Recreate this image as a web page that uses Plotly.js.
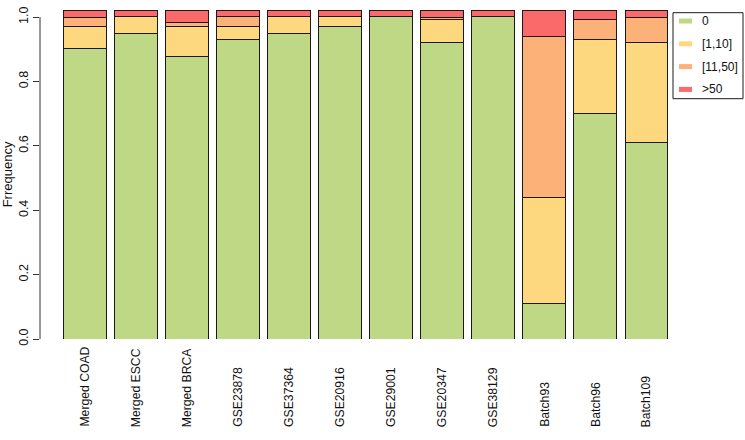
<!DOCTYPE html>
<html>
<head>
<meta charset="utf-8">
<script src="https://cdn.plot.ly/plotly-3.0.1.min.js"></script>
<style>
html,body{margin:0;padding:0;background:#fff;}
#chart{width:745px;height:440px;}
</style>
</head>
<body>
<div id="chart"></div>
<script>
// ---- data ----
var categories = ["Merged COAD","Merged ESCC","Merged BRCA","GSE23878","GSE37364","GSE20916","GSE29001","GSE20347","GSE38129","Batch93","Batch96","Batch109"];
var seriesNames = ["0","[1,10]","[11,50]",">50"];
var seriesColors = ["#BFD886","#FED87F","#FCB179","#FA6A6B"];
var zeroVals   = [0.901,0.949,0.879,0.931,0.949,0.970,1.001,0.920,1.001,0.110,0.700,0.611];
var lowVals    = [0.070,0.052,0.093,0.041,0.052,0.031,0.000,0.073,0.000,0.331,0.229,0.309];
var midVals    = [0.028,0.000,0.010,0.029,0.000,0.000,0.000,0.007,0.000,0.500,0.062,0.079];
var highVals   = [0.020,0.019,0.037,0.019,0.019,0.019,0.019,0.019,0.019,0.079,0.029,0.020];
var yTickVals  = [0,0.2,0.4,0.6,0.8,1.0];
var yTickText  = ["0.0","0.2","0.4","0.6","0.8","1.0"];

var seriesValues = [zeroVals, lowVals, midVals, highVals];

// ---- layout geometry ----
var W = 745, H = 440;
var M = {l:40, r:73, t:10, b:101};
var plotW = W - M.l - M.r, plotH = H - M.t - M.b;
function pxX(px){ return (px - M.l) / plotW; }
function pxY(py){ return (H - M.b - py) / plotH; }
var FONT = "Liberation Sans, Arial, sans-serif";
var INK = "#111";

var xPos = categories.map(function(c, k){ return k; });

var traces = seriesNames.map(function(name, i){
  return {
    type: "bar",
    name: name,
    x: xPos,
    y: seriesValues[i],
    marker: {color: seriesColors[i], line: {color: "#1a1a1a", width: 1}},
    showlegend: false,
    customdata: categories,
    hovertemplate: "%{customdata}: %{y}<extra>" + name + "</extra>"
  };
});

var shapes = [];
var annotations = [];
// y axis line spanning 0..1 only (R style)
shapes.push({type:"line", xref:"paper", yref:"y", x0:0, x1:0, y0:0, y1:1,
  line:{color:"#333", width:1}});
// category labels, rotated, bottom-aligned
categories.forEach(function(c, k){
  annotations.push({xref:"x", yref:"paper", x:xPos[k], y:pxY(429),
    xanchor:"center", yanchor:"bottom", textangle:-90, text:c, showarrow:false,
    font:{family:FONT, size:12.2, color:INK}});
});
// legend box
var lgLeft = 673, lgRight = 743, lgTop = 12.7, lgBottom = 98.7;
shapes.push({type:"rect", xref:"paper", yref:"paper",
  x0:pxX(lgLeft), x1:pxX(lgRight), y0:pxY(lgBottom), y1:pxY(lgTop),
  line:{color:"#1a1a1a", width:1}, fillcolor:"rgba(0,0,0,0)"});
seriesNames.forEach(function(name, i){
  var cy = 21 + i * 22.8;
  shapes.push({type:"rect", xref:"paper", yref:"paper",
    x0:pxX(679), x1:pxX(692), y0:pxY(cy + 2.5), y1:pxY(cy - 2.5),
    line:{width:0}, fillcolor:seriesColors[i]});
  annotations.push({xref:"paper", yref:"paper", x:pxX(700), y:pxY(cy),
    xanchor:"left", yanchor:"middle", text:name, showarrow:false,
    font:{family:FONT, size:12, color:INK}});
});

var layout = {
  width: W, height: H,
  margin: {l:M.l, r:M.r, t:M.t, b:M.b, pad:0},
  paper_bgcolor: "#fff", plot_bgcolor: "#fff",
  barmode: "stack",
  bargap: 0.16,
  showlegend: false,
  font: {family:FONT, size:12, color:INK},
  xaxis: {
    range: [-0.872, 11.5],
    tickmode: "array",
    tickvals: xPos,
    showticklabels: false,
    ticks: "",
    showline: false, showgrid: false, zeroline: false,
    automargin: false
  },
  yaxis: {
    range: [0, 1.022],
    tickmode: "array",
    tickvals: yTickVals,
    ticktext: yTickText,
    tickangle: -90,
    ticks: "outside", ticklen: 6, tickcolor: "#333", tickwidth: 1,
    showline: false, showgrid: false, zeroline: false,
    automargin: false,
    tickfont: {size:12.5},
    title: {text: "Frrequency", font:{size:13}, standoff: 3}
  },
  shapes: shapes,
  annotations: annotations
};

Plotly.newPlot("chart", traces, layout, {displayModeBar:false});
</script>
</body>
</html>
